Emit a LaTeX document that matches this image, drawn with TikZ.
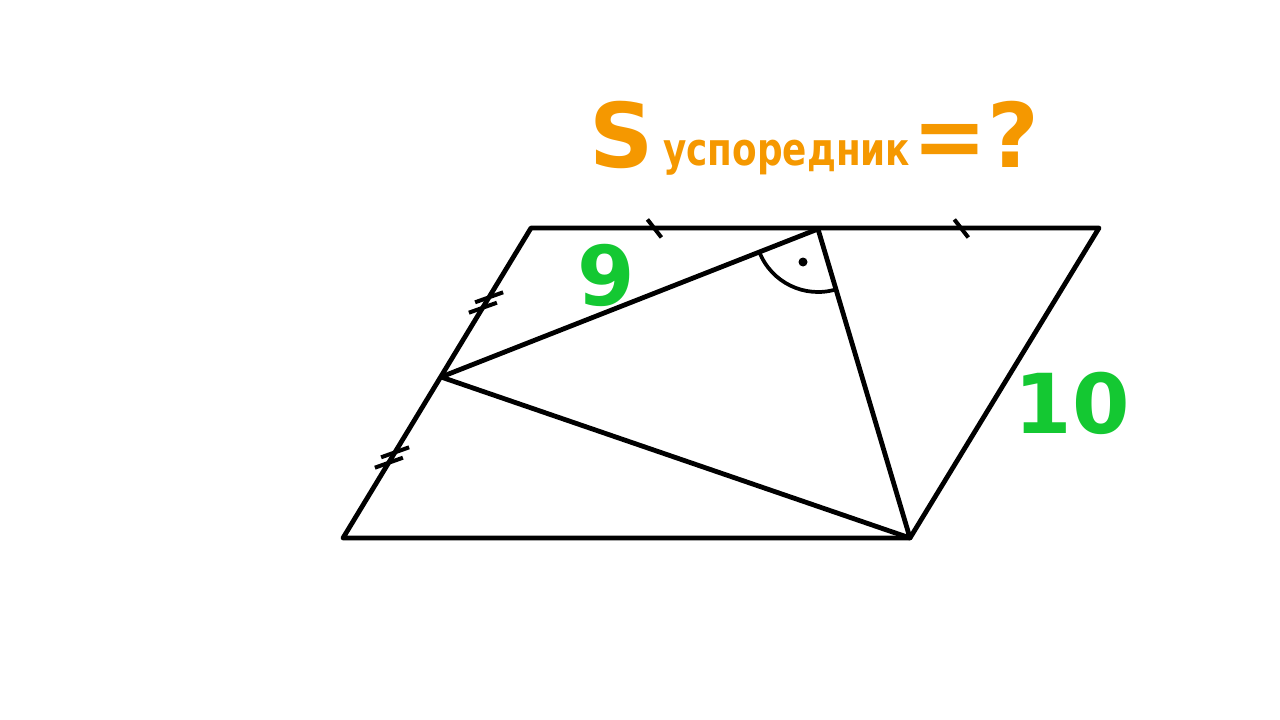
\documentclass[tikz,border=0pt]{standalone}
\usepackage{fontspec}
\setmainfont{DejaVu Sans}
\usepackage{tikz}
\usetikzlibrary{calc}
\usetikzlibrary{positioning}
\definecolor{titleorange}{RGB}{245,152,0}
\definecolor{numgreen}{RGB}{20,200,50}

\begin{document}
\begin{tikzpicture}[x=0.75pt,y=0.75pt,yscale=-1,xscale=1]
  \useasboundingbox (0,0) rectangle (1280,720);
  \tikzstyle{edge} = [line width=3.6pt,line join=round,line cap=round]
  \tikzstyle{tick} = [line width=3pt]
  \tikzstyle{num} = [text=numgreen,font=\bfseries\fontsize{62}{62}\selectfont,inner sep=0pt]
  %Corners of the parallelogram
  \coordinate (A) at (343,538);
  \coordinate (B) at (910,538);
  \coordinate (C) at (1099,228);
  \coordinate (D) at (531,228);
  \coordinate (M) at (441,377);
  \coordinate (N) at (818,229);
  %Draw parallelogram
  \draw[edge] (A) -- (B) -- (C) -- (D) -- cycle;
  %Draw the triangle inside
  \draw[edge] (M) -- (N) -- (B) -- cycle;
  %Right angle at N
  \draw[line width=2.8pt] ([shift={(158.7:63)}]N) arc (158.7:73.4:63);
  \fill (803,262) circle (4.5);
  %Single ticks on the top side
  \draw[tick] ($(D)!0.43!(N)$) ++(-7,-9) -- ++(14,18);
  \draw[tick] ($(N)!0.51!(C)$) ++(-7,-9) -- ++(14,18);
  %Double ticks on the left side
  \draw[tick] ($(M)!0.5!(D)$) ++(3.1,-5.2) ++(-14,5) -- ++(28,-10);
  \draw[tick] ($(M)!0.5!(D)$) ++(-3.1,5.2) ++(-14,5) -- ++(28,-10);
  \draw[tick] ($(A)!0.5!(M)$) ++(3.1,-5.2) ++(-14,5) -- ++(28,-10);
  \draw[tick] ($(A)!0.5!(M)$) ++(-3.1,5.2) ++(-14,5) -- ++(28,-10);
  % Label the sides
  \node[num] (nine) at (606,275) {9};
  \node[num] (ten) at (1072,403) {10};
  % Title
  \node[anchor=base west,inner sep=0pt,text=titleorange,font=\bfseries\fontsize{67}{67}\selectfont] (S) at (589,168) {S};
  \node[anchor=base west,inner sep=0pt,text=titleorange,font=\bfseries\fontsize{34}{34}\selectfont] (sub) at (663,166) {\scalebox{0.79}[1]{успоредник}};
  \node[anchor=base west,inner sep=0pt,text=titleorange,font=\bfseries\fontsize{67}{67}\selectfont] (eq) at (912,168) {=?};
\end{tikzpicture}
\end{document}
